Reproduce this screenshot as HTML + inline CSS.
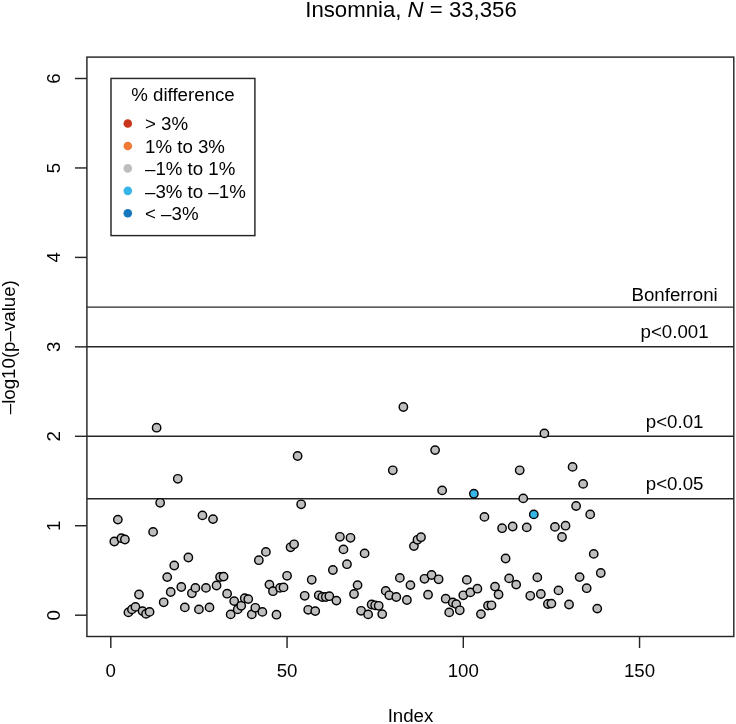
<!DOCTYPE html>
<html><head><meta charset="utf-8"><title>Insomnia</title>
<style>html,body{margin:0;padding:0;background:#fff;}svg{display:block;}text{font-family:"Liberation Sans", Arial, Helvetica, sans-serif;fill:#000;}</style>
</head><body>
<svg width="736" height="724" viewBox="0 0 736 724">
<rect x="0" y="0" width="736" height="724" fill="#fff"/>
<text x="411" y="17.3" font-size="22.2" text-anchor="middle">Insomnia, <tspan font-style="italic">N</tspan> = 33,356</text>
<rect x="86.9" y="57.1" width="646.90" height="579.40" fill="none" stroke="#262626" stroke-width="1.45"/>
<line x1="75" y1="615.20" x2="86.9" y2="615.20" stroke="#262626" stroke-width="1.45"/>
<text transform="translate(60.4 615.20) rotate(-90)" x="0" y="0" font-size="18.7" text-anchor="middle">0</text>
<line x1="75" y1="525.75" x2="86.9" y2="525.75" stroke="#262626" stroke-width="1.45"/>
<text transform="translate(60.4 525.75) rotate(-90)" x="0" y="0" font-size="18.7" text-anchor="middle">1</text>
<line x1="75" y1="436.30" x2="86.9" y2="436.30" stroke="#262626" stroke-width="1.45"/>
<text transform="translate(60.4 436.30) rotate(-90)" x="0" y="0" font-size="18.7" text-anchor="middle">2</text>
<line x1="75" y1="346.85" x2="86.9" y2="346.85" stroke="#262626" stroke-width="1.45"/>
<text transform="translate(60.4 346.85) rotate(-90)" x="0" y="0" font-size="18.7" text-anchor="middle">3</text>
<line x1="75" y1="257.40" x2="86.9" y2="257.40" stroke="#262626" stroke-width="1.45"/>
<text transform="translate(60.4 257.40) rotate(-90)" x="0" y="0" font-size="18.7" text-anchor="middle">4</text>
<line x1="75" y1="167.95" x2="86.9" y2="167.95" stroke="#262626" stroke-width="1.45"/>
<text transform="translate(60.4 167.95) rotate(-90)" x="0" y="0" font-size="18.7" text-anchor="middle">5</text>
<line x1="75" y1="78.50" x2="86.9" y2="78.50" stroke="#262626" stroke-width="1.45"/>
<text transform="translate(60.4 78.50) rotate(-90)" x="0" y="0" font-size="18.7" text-anchor="middle">6</text>
<line x1="110.80" y1="636.5" x2="110.80" y2="648" stroke="#262626" stroke-width="1.45"/>
<text x="110.80" y="677.1" font-size="18.7" text-anchor="middle">0</text>
<line x1="287.05" y1="636.5" x2="287.05" y2="648" stroke="#262626" stroke-width="1.45"/>
<text x="287.05" y="677.1" font-size="18.7" text-anchor="middle">50</text>
<line x1="463.30" y1="636.5" x2="463.30" y2="648" stroke="#262626" stroke-width="1.45"/>
<text x="463.30" y="677.1" font-size="18.7" text-anchor="middle">100</text>
<line x1="639.55" y1="636.5" x2="639.55" y2="648" stroke="#262626" stroke-width="1.45"/>
<text x="639.55" y="677.1" font-size="18.7" text-anchor="middle">150</text>
<text x="410.5" y="721.8" font-size="18.7" text-anchor="middle">Index</text>
<text transform="translate(14.8 347.2) rotate(-90)" x="0" y="0" font-size="18.7" text-anchor="middle">–log10(p–value)</text>
<line x1="86.9" y1="307.1" x2="733.8" y2="307.1" stroke="#262626" stroke-width="1.45"/>
<line x1="86.9" y1="346.8" x2="733.8" y2="346.8" stroke="#262626" stroke-width="1.45"/>
<line x1="86.9" y1="436.3" x2="733.8" y2="436.3" stroke="#262626" stroke-width="1.45"/>
<line x1="86.9" y1="498.7" x2="733.8" y2="498.7" stroke="#262626" stroke-width="1.45"/>
<text x="674.6" y="300.5" font-size="18.7" text-anchor="middle">Bonferroni</text>
<text x="674.6" y="337.9" font-size="18.7" text-anchor="middle">p&lt;0.001</text>
<text x="674.6" y="427.5" font-size="18.7" text-anchor="middle">p&lt;0.01</text>
<text x="674.6" y="490.1" font-size="18.7" text-anchor="middle">p&lt;0.05</text>
<rect x="111.0" y="78.45" width="143.9" height="157.15" fill="#fff" stroke="#262626" stroke-width="1.45"/>
<text x="183" y="101" font-size="18.7" text-anchor="middle">% difference</text>
<circle cx="127.8" cy="123.50" r="4.3" fill="#c9361c"/>
<text x="145" y="130.20" font-size="18.7">&gt; 3%</text>
<circle cx="127.8" cy="145.95" r="4.3" fill="#ee7a35"/>
<text x="145" y="152.65" font-size="18.7">1% to 3%</text>
<circle cx="127.8" cy="168.40" r="4.3" fill="#bebebe"/>
<text x="145" y="175.10" font-size="18.7">–1% to 1%</text>
<circle cx="127.8" cy="190.85" r="4.3" fill="#35b5e8"/>
<text x="145" y="197.55" font-size="18.7">–3% to –1%</text>
<circle cx="127.8" cy="213.30" r="4.3" fill="#1676be"/>
<text x="145" y="220.00" font-size="18.7">&lt; –3%</text>
<circle cx="114.33" cy="541.5" r="4.18" fill="#bebebe" stroke="#000" stroke-width="1.42"/>
<circle cx="117.85" cy="519.6" r="4.18" fill="#bebebe" stroke="#000" stroke-width="1.42"/>
<circle cx="121.38" cy="538.2" r="4.18" fill="#bebebe" stroke="#000" stroke-width="1.42"/>
<circle cx="124.90" cy="539.5" r="4.18" fill="#bebebe" stroke="#000" stroke-width="1.42"/>
<circle cx="128.43" cy="612.4" r="4.18" fill="#bebebe" stroke="#000" stroke-width="1.42"/>
<circle cx="131.95" cy="609.4" r="4.18" fill="#bebebe" stroke="#000" stroke-width="1.42"/>
<circle cx="135.47" cy="606.9" r="4.18" fill="#bebebe" stroke="#000" stroke-width="1.42"/>
<circle cx="139.00" cy="594.5" r="4.18" fill="#bebebe" stroke="#000" stroke-width="1.42"/>
<circle cx="142.53" cy="611.1" r="4.18" fill="#bebebe" stroke="#000" stroke-width="1.42"/>
<circle cx="146.05" cy="613.9" r="4.18" fill="#bebebe" stroke="#000" stroke-width="1.42"/>
<circle cx="149.57" cy="611.9" r="4.18" fill="#bebebe" stroke="#000" stroke-width="1.42"/>
<circle cx="153.10" cy="531.9" r="4.18" fill="#bebebe" stroke="#000" stroke-width="1.42"/>
<circle cx="156.62" cy="427.7" r="4.18" fill="#bebebe" stroke="#000" stroke-width="1.42"/>
<circle cx="160.15" cy="502.8" r="4.18" fill="#bebebe" stroke="#000" stroke-width="1.42"/>
<circle cx="163.68" cy="602.3" r="4.18" fill="#bebebe" stroke="#000" stroke-width="1.42"/>
<circle cx="167.20" cy="577.1" r="4.18" fill="#bebebe" stroke="#000" stroke-width="1.42"/>
<circle cx="170.72" cy="592.0" r="4.18" fill="#bebebe" stroke="#000" stroke-width="1.42"/>
<circle cx="174.25" cy="565.5" r="4.18" fill="#bebebe" stroke="#000" stroke-width="1.42"/>
<circle cx="177.77" cy="478.8" r="4.18" fill="#bebebe" stroke="#000" stroke-width="1.42"/>
<circle cx="181.30" cy="587.0" r="4.18" fill="#bebebe" stroke="#000" stroke-width="1.42"/>
<circle cx="184.82" cy="607.4" r="4.18" fill="#bebebe" stroke="#000" stroke-width="1.42"/>
<circle cx="188.35" cy="557.5" r="4.18" fill="#bebebe" stroke="#000" stroke-width="1.42"/>
<circle cx="191.88" cy="593.3" r="4.18" fill="#bebebe" stroke="#000" stroke-width="1.42"/>
<circle cx="195.40" cy="587.9" r="4.18" fill="#bebebe" stroke="#000" stroke-width="1.42"/>
<circle cx="198.93" cy="609.4" r="4.18" fill="#bebebe" stroke="#000" stroke-width="1.42"/>
<circle cx="202.45" cy="515.4" r="4.18" fill="#bebebe" stroke="#000" stroke-width="1.42"/>
<circle cx="205.97" cy="587.9" r="4.18" fill="#bebebe" stroke="#000" stroke-width="1.42"/>
<circle cx="209.50" cy="607.4" r="4.18" fill="#bebebe" stroke="#000" stroke-width="1.42"/>
<circle cx="213.02" cy="519.1" r="4.18" fill="#bebebe" stroke="#000" stroke-width="1.42"/>
<circle cx="216.55" cy="585.5" r="4.18" fill="#bebebe" stroke="#000" stroke-width="1.42"/>
<circle cx="220.07" cy="577.0" r="4.18" fill="#bebebe" stroke="#000" stroke-width="1.42"/>
<circle cx="223.60" cy="576.6" r="4.18" fill="#bebebe" stroke="#000" stroke-width="1.42"/>
<circle cx="227.12" cy="593.7" r="4.18" fill="#bebebe" stroke="#000" stroke-width="1.42"/>
<circle cx="230.65" cy="614.4" r="4.18" fill="#bebebe" stroke="#000" stroke-width="1.42"/>
<circle cx="234.18" cy="601.1" r="4.18" fill="#bebebe" stroke="#000" stroke-width="1.42"/>
<circle cx="237.70" cy="609.4" r="4.18" fill="#bebebe" stroke="#000" stroke-width="1.42"/>
<circle cx="241.22" cy="605.8" r="4.18" fill="#bebebe" stroke="#000" stroke-width="1.42"/>
<circle cx="244.75" cy="598.2" r="4.18" fill="#bebebe" stroke="#000" stroke-width="1.42"/>
<circle cx="248.27" cy="599.1" r="4.18" fill="#bebebe" stroke="#000" stroke-width="1.42"/>
<circle cx="251.80" cy="614.4" r="4.18" fill="#bebebe" stroke="#000" stroke-width="1.42"/>
<circle cx="255.32" cy="607.8" r="4.18" fill="#bebebe" stroke="#000" stroke-width="1.42"/>
<circle cx="258.85" cy="560.2" r="4.18" fill="#bebebe" stroke="#000" stroke-width="1.42"/>
<circle cx="262.38" cy="611.9" r="4.18" fill="#bebebe" stroke="#000" stroke-width="1.42"/>
<circle cx="265.90" cy="551.9" r="4.18" fill="#bebebe" stroke="#000" stroke-width="1.42"/>
<circle cx="269.43" cy="584.6" r="4.18" fill="#bebebe" stroke="#000" stroke-width="1.42"/>
<circle cx="272.95" cy="591.2" r="4.18" fill="#bebebe" stroke="#000" stroke-width="1.42"/>
<circle cx="276.47" cy="614.7" r="4.18" fill="#bebebe" stroke="#000" stroke-width="1.42"/>
<circle cx="280.00" cy="587.9" r="4.18" fill="#bebebe" stroke="#000" stroke-width="1.42"/>
<circle cx="283.52" cy="587.4" r="4.18" fill="#bebebe" stroke="#000" stroke-width="1.42"/>
<circle cx="287.05" cy="575.8" r="4.18" fill="#bebebe" stroke="#000" stroke-width="1.42"/>
<circle cx="290.57" cy="547.3" r="4.18" fill="#bebebe" stroke="#000" stroke-width="1.42"/>
<circle cx="294.10" cy="544.3" r="4.18" fill="#bebebe" stroke="#000" stroke-width="1.42"/>
<circle cx="297.62" cy="456.0" r="4.18" fill="#bebebe" stroke="#000" stroke-width="1.42"/>
<circle cx="301.15" cy="504.3" r="4.18" fill="#bebebe" stroke="#000" stroke-width="1.42"/>
<circle cx="304.68" cy="595.8" r="4.18" fill="#bebebe" stroke="#000" stroke-width="1.42"/>
<circle cx="308.20" cy="609.8" r="4.18" fill="#bebebe" stroke="#000" stroke-width="1.42"/>
<circle cx="311.72" cy="579.8" r="4.18" fill="#bebebe" stroke="#000" stroke-width="1.42"/>
<circle cx="315.25" cy="611.1" r="4.18" fill="#bebebe" stroke="#000" stroke-width="1.42"/>
<circle cx="318.77" cy="595.3" r="4.18" fill="#bebebe" stroke="#000" stroke-width="1.42"/>
<circle cx="322.30" cy="597.0" r="4.18" fill="#bebebe" stroke="#000" stroke-width="1.42"/>
<circle cx="325.82" cy="597.0" r="4.18" fill="#bebebe" stroke="#000" stroke-width="1.42"/>
<circle cx="329.35" cy="596.2" r="4.18" fill="#bebebe" stroke="#000" stroke-width="1.42"/>
<circle cx="332.88" cy="570.0" r="4.18" fill="#bebebe" stroke="#000" stroke-width="1.42"/>
<circle cx="336.40" cy="600.6" r="4.18" fill="#bebebe" stroke="#000" stroke-width="1.42"/>
<circle cx="339.93" cy="536.8" r="4.18" fill="#bebebe" stroke="#000" stroke-width="1.42"/>
<circle cx="343.45" cy="549.4" r="4.18" fill="#bebebe" stroke="#000" stroke-width="1.42"/>
<circle cx="346.97" cy="564.2" r="4.18" fill="#bebebe" stroke="#000" stroke-width="1.42"/>
<circle cx="350.50" cy="537.8" r="4.18" fill="#bebebe" stroke="#000" stroke-width="1.42"/>
<circle cx="354.02" cy="594.0" r="4.18" fill="#bebebe" stroke="#000" stroke-width="1.42"/>
<circle cx="357.55" cy="585.1" r="4.18" fill="#bebebe" stroke="#000" stroke-width="1.42"/>
<circle cx="361.07" cy="610.8" r="4.18" fill="#bebebe" stroke="#000" stroke-width="1.42"/>
<circle cx="364.60" cy="553.4" r="4.18" fill="#bebebe" stroke="#000" stroke-width="1.42"/>
<circle cx="368.12" cy="614.4" r="4.18" fill="#bebebe" stroke="#000" stroke-width="1.42"/>
<circle cx="371.65" cy="604.5" r="4.18" fill="#bebebe" stroke="#000" stroke-width="1.42"/>
<circle cx="375.18" cy="605.3" r="4.18" fill="#bebebe" stroke="#000" stroke-width="1.42"/>
<circle cx="378.70" cy="605.8" r="4.18" fill="#bebebe" stroke="#000" stroke-width="1.42"/>
<circle cx="382.23" cy="614.1" r="4.18" fill="#bebebe" stroke="#000" stroke-width="1.42"/>
<circle cx="385.75" cy="590.9" r="4.18" fill="#bebebe" stroke="#000" stroke-width="1.42"/>
<circle cx="389.27" cy="595.3" r="4.18" fill="#bebebe" stroke="#000" stroke-width="1.42"/>
<circle cx="392.80" cy="470.3" r="4.18" fill="#bebebe" stroke="#000" stroke-width="1.42"/>
<circle cx="396.32" cy="597.0" r="4.18" fill="#bebebe" stroke="#000" stroke-width="1.42"/>
<circle cx="399.85" cy="577.9" r="4.18" fill="#bebebe" stroke="#000" stroke-width="1.42"/>
<circle cx="403.38" cy="407.0" r="4.18" fill="#bebebe" stroke="#000" stroke-width="1.42"/>
<circle cx="406.90" cy="600.0" r="4.18" fill="#bebebe" stroke="#000" stroke-width="1.42"/>
<circle cx="410.43" cy="585.1" r="4.18" fill="#bebebe" stroke="#000" stroke-width="1.42"/>
<circle cx="413.95" cy="546.1" r="4.18" fill="#bebebe" stroke="#000" stroke-width="1.42"/>
<circle cx="417.48" cy="539.8" r="4.18" fill="#bebebe" stroke="#000" stroke-width="1.42"/>
<circle cx="421.00" cy="537.2" r="4.18" fill="#bebebe" stroke="#000" stroke-width="1.42"/>
<circle cx="424.52" cy="578.8" r="4.18" fill="#bebebe" stroke="#000" stroke-width="1.42"/>
<circle cx="428.05" cy="594.7" r="4.18" fill="#bebebe" stroke="#000" stroke-width="1.42"/>
<circle cx="431.57" cy="575.0" r="4.18" fill="#bebebe" stroke="#000" stroke-width="1.42"/>
<circle cx="435.10" cy="450.1" r="4.18" fill="#bebebe" stroke="#000" stroke-width="1.42"/>
<circle cx="438.62" cy="579.3" r="4.18" fill="#bebebe" stroke="#000" stroke-width="1.42"/>
<circle cx="442.15" cy="490.4" r="4.18" fill="#bebebe" stroke="#000" stroke-width="1.42"/>
<circle cx="445.68" cy="598.7" r="4.18" fill="#bebebe" stroke="#000" stroke-width="1.42"/>
<circle cx="449.20" cy="612.4" r="4.18" fill="#bebebe" stroke="#000" stroke-width="1.42"/>
<circle cx="452.73" cy="602.5" r="4.18" fill="#bebebe" stroke="#000" stroke-width="1.42"/>
<circle cx="456.25" cy="604.1" r="4.18" fill="#bebebe" stroke="#000" stroke-width="1.42"/>
<circle cx="459.77" cy="610.3" r="4.18" fill="#bebebe" stroke="#000" stroke-width="1.42"/>
<circle cx="463.30" cy="595.3" r="4.18" fill="#bebebe" stroke="#000" stroke-width="1.42"/>
<circle cx="466.82" cy="579.9" r="4.18" fill="#bebebe" stroke="#000" stroke-width="1.42"/>
<circle cx="470.35" cy="592.4" r="4.18" fill="#bebebe" stroke="#000" stroke-width="1.42"/>
<circle cx="473.88" cy="493.7" r="4.18" fill="#35b5e8" stroke="#000" stroke-width="1.42"/>
<circle cx="477.40" cy="588.7" r="4.18" fill="#bebebe" stroke="#000" stroke-width="1.42"/>
<circle cx="480.93" cy="614.1" r="4.18" fill="#bebebe" stroke="#000" stroke-width="1.42"/>
<circle cx="484.45" cy="516.9" r="4.18" fill="#bebebe" stroke="#000" stroke-width="1.42"/>
<circle cx="487.98" cy="605.6" r="4.18" fill="#bebebe" stroke="#000" stroke-width="1.42"/>
<circle cx="491.50" cy="605.3" r="4.18" fill="#bebebe" stroke="#000" stroke-width="1.42"/>
<circle cx="495.02" cy="586.6" r="4.18" fill="#bebebe" stroke="#000" stroke-width="1.42"/>
<circle cx="498.55" cy="594.5" r="4.18" fill="#bebebe" stroke="#000" stroke-width="1.42"/>
<circle cx="502.07" cy="528.2" r="4.18" fill="#bebebe" stroke="#000" stroke-width="1.42"/>
<circle cx="505.60" cy="558.5" r="4.18" fill="#bebebe" stroke="#000" stroke-width="1.42"/>
<circle cx="509.12" cy="578.4" r="4.18" fill="#bebebe" stroke="#000" stroke-width="1.42"/>
<circle cx="512.65" cy="526.5" r="4.18" fill="#bebebe" stroke="#000" stroke-width="1.42"/>
<circle cx="516.17" cy="584.6" r="4.18" fill="#bebebe" stroke="#000" stroke-width="1.42"/>
<circle cx="519.70" cy="470.3" r="4.18" fill="#bebebe" stroke="#000" stroke-width="1.42"/>
<circle cx="523.23" cy="498.4" r="4.18" fill="#bebebe" stroke="#000" stroke-width="1.42"/>
<circle cx="526.75" cy="527.4" r="4.18" fill="#bebebe" stroke="#000" stroke-width="1.42"/>
<circle cx="530.27" cy="595.8" r="4.18" fill="#bebebe" stroke="#000" stroke-width="1.42"/>
<circle cx="533.80" cy="514.4" r="4.18" fill="#35b5e8" stroke="#000" stroke-width="1.42"/>
<circle cx="537.32" cy="577.4" r="4.18" fill="#bebebe" stroke="#000" stroke-width="1.42"/>
<circle cx="540.85" cy="594.0" r="4.18" fill="#bebebe" stroke="#000" stroke-width="1.42"/>
<circle cx="544.38" cy="433.4" r="4.18" fill="#bebebe" stroke="#000" stroke-width="1.42"/>
<circle cx="547.90" cy="604.0" r="4.18" fill="#bebebe" stroke="#000" stroke-width="1.42"/>
<circle cx="551.42" cy="603.6" r="4.18" fill="#bebebe" stroke="#000" stroke-width="1.42"/>
<circle cx="554.95" cy="526.9" r="4.18" fill="#bebebe" stroke="#000" stroke-width="1.42"/>
<circle cx="558.48" cy="590.4" r="4.18" fill="#bebebe" stroke="#000" stroke-width="1.42"/>
<circle cx="562.00" cy="537.0" r="4.18" fill="#bebebe" stroke="#000" stroke-width="1.42"/>
<circle cx="565.52" cy="525.7" r="4.18" fill="#bebebe" stroke="#000" stroke-width="1.42"/>
<circle cx="569.05" cy="604.5" r="4.18" fill="#bebebe" stroke="#000" stroke-width="1.42"/>
<circle cx="572.57" cy="466.9" r="4.18" fill="#bebebe" stroke="#000" stroke-width="1.42"/>
<circle cx="576.10" cy="506.0" r="4.18" fill="#bebebe" stroke="#000" stroke-width="1.42"/>
<circle cx="579.62" cy="577.1" r="4.18" fill="#bebebe" stroke="#000" stroke-width="1.42"/>
<circle cx="583.15" cy="483.9" r="4.18" fill="#bebebe" stroke="#000" stroke-width="1.42"/>
<circle cx="586.67" cy="588.2" r="4.18" fill="#bebebe" stroke="#000" stroke-width="1.42"/>
<circle cx="590.20" cy="514.4" r="4.18" fill="#bebebe" stroke="#000" stroke-width="1.42"/>
<circle cx="593.73" cy="553.9" r="4.18" fill="#bebebe" stroke="#000" stroke-width="1.42"/>
<circle cx="597.25" cy="608.6" r="4.18" fill="#bebebe" stroke="#000" stroke-width="1.42"/>
<circle cx="600.77" cy="573.0" r="4.18" fill="#bebebe" stroke="#000" stroke-width="1.42"/>
</svg>
</body></html>
